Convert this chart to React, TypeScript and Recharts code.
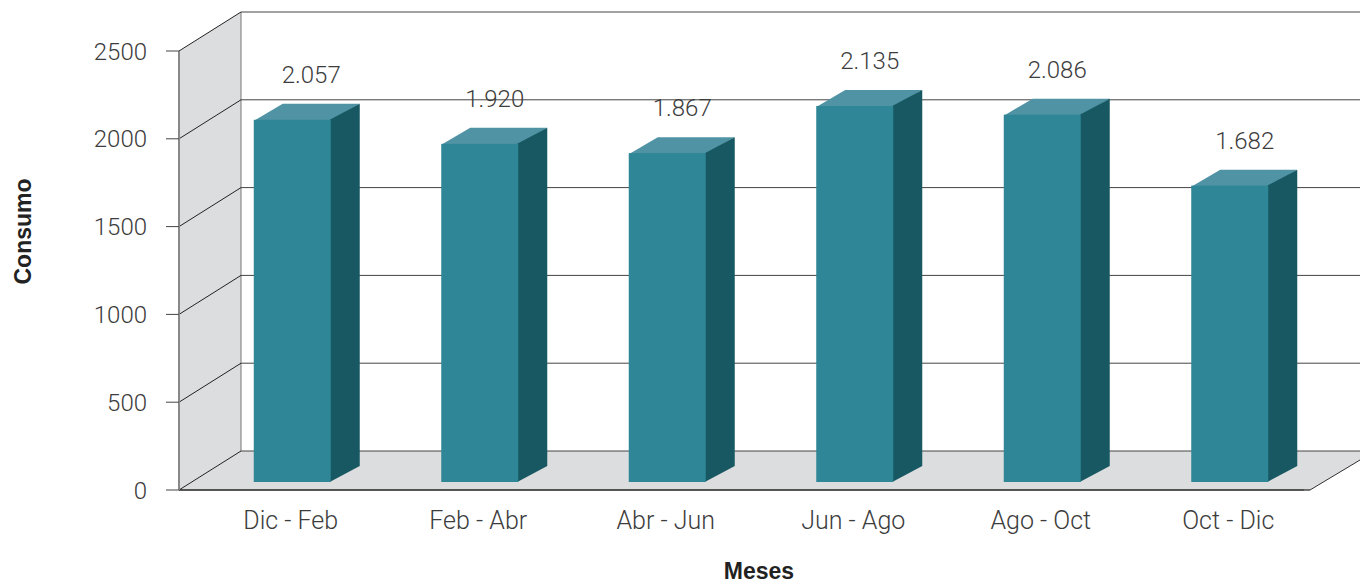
import { BarChart, Bar, XAxis, YAxis, CartesianGrid, LabelList, ReferenceArea } from "recharts";

const periods = ["Dic - Feb", "Feb - Abr", "Abr - Jun", "Jun - Ago", "Ago - Oct", "Oct - Dic"];
const consumo = [2057, 1920, 1867, 2135, 2086, 1682];
const yTicks = [0, 500, 1000, 1500, 2000, 2500];

const chartData = periods.map((name, i) => ({ name, consumo: consumo[i] }));

// fake 3d: depth of the room and of the bars
const ROOM_DX = 62;
const ROOM_DY = -39;
const BAR_DX = 29;
const BAR_DY = -16;
const BAR_SHIFT = 19.75;

const FONT = "Roboto, 'Liberation Sans', sans-serif";
const TEXT_COLOR = "#3c3c3c";

function Room(props: any) {
  const { x, y, width, height } = props;
  const bottom = y + height;
  const left = x + ROOM_DX;
  return (
    <g>
      <polygon points={`${x},${y} ${left},${y + ROOM_DY} ${left},${bottom + ROOM_DY} ${x},${bottom}`} fill="#dcdddf" />
      <polygon
        points={`${x},${bottom} ${left},${bottom + ROOM_DY} 1360,${bottom + ROOM_DY} 1360,${bottom - 30} ${x + width + 6},${bottom}`}
        fill="#dcdddf"
      />
      <line x1={left} y1={y + ROOM_DY} x2={left} y2={bottom + ROOM_DY} stroke="#777" strokeWidth={1} />
      <line x1={x + width} y1={bottom} x2={x + width + 6} y2={bottom} stroke="#222" strokeWidth={1.2} />
      <line x1={x + width + 6} y1={bottom} x2={1360} y2={bottom - 30} stroke="#333" strokeWidth={1} />
    </g>
  );
}

function GridLine(props: any) {
  const { x1, y1 } = props;
  return (
    <g>
      <line x1={x1 + ROOM_DX} y1={y1 + ROOM_DY} x2={1360} y2={y1 + ROOM_DY} stroke="#444" strokeWidth={1} />
      <line x1={x1} y1={y1} x2={x1 + ROOM_DX} y2={y1 + ROOM_DY} stroke="#222" strokeWidth={1} />
    </g>
  );
}

function Bar3D(props: any) {
  const { x, y, width, height } = props;
  const l = x + BAR_SHIFT;
  const r = l + width;
  const top = y - 9;
  const bottom = y + height - 8;
  return (
    <g>
      <polygon points={`${l},${top + 1} ${l + BAR_DX},${top + BAR_DY} ${r + BAR_DX},${top + BAR_DY} ${r},${top + 1}`} fill="#5093a4" />
      <polygon points={`${r - 1},${top} ${r + BAR_DX},${top + BAR_DY} ${r + BAR_DX},${bottom + BAR_DY} ${r - 1},${bottom}`} fill="#175862" />
      <rect x={l} y={top} width={width} height={bottom - top} fill="#2e8696" />
    </g>
  );
}

function ValueLabel(props: any) {
  const { x, y, width, value, index } = props;
  const text = String(value).replace(/(\d)(\d{3})$/, "$1.$2");
  return (
    <text
      x={x + BAR_SHIFT + width / 2 + (index === 0 ? 19 : 15)}
      y={y - 46}
      textAnchor="middle"
      fontFamily={FONT}
      fontWeight={300}
      fontSize={24}
      fill={TEXT_COLOR}
    >
      {text}
    </text>
  );
}

const tickStyle = { fontFamily: FONT, fontWeight: 300, fontSize: 24, fill: TEXT_COLOR };
const xTickStyle = { ...tickStyle, fontSize: 25 };
const titleStyle = { fontFamily: "'Liberation Sans', sans-serif", fontWeight: 700, fontSize: 23, fill: "#222" };

export default function App() {
  return (
    <div style={{ position: "absolute", left: 0, top: 0, width: 1360, height: 584, overflow: "hidden" }}>
      <BarChart
        width={1360}
        height={584}
        data={chartData}
        barSize={77}
        margin={{ top: 51, right: 56, left: 0, bottom: 0 }}
      >
        <ReferenceArea y1={0} y2={2500} shape={<Room />} ifOverflow="visible" zIndex={-200} />
        <CartesianGrid vertical={false} horizontal={(p: any) => <GridLine {...p} />} />
        <XAxis
          dataKey="name"
          height={94}
          tickLine={false}
          axisLine={{ stroke: "#222", strokeWidth: 1.5 }}
          tick={xTickStyle}
          tickMargin={15}
          dx={18}
          label={{ value: "Meses", position: "center", dx: 17.5, dy: 34, style: titleStyle }}
        />
        <YAxis
          width={179}
          domain={[0, 2500]}
          ticks={yTicks}
          interval={0}
          tickSize={13}
          tickMargin={19}
          axisLine={{ stroke: "#888", strokeWidth: 2 }}
          tickLine={{ stroke: "#444" }}
          tick={tickStyle}
          label={{ value: "Consumo", angle: -90, position: "center", dx: -67, dy: -39, style: titleStyle }}
        />
        <Bar dataKey="consumo" shape={<Bar3D />} isAnimationActive={false}>
          <LabelList dataKey="consumo" content={<ValueLabel />} />
        </Bar>
      </BarChart>
    </div>
  );
}
